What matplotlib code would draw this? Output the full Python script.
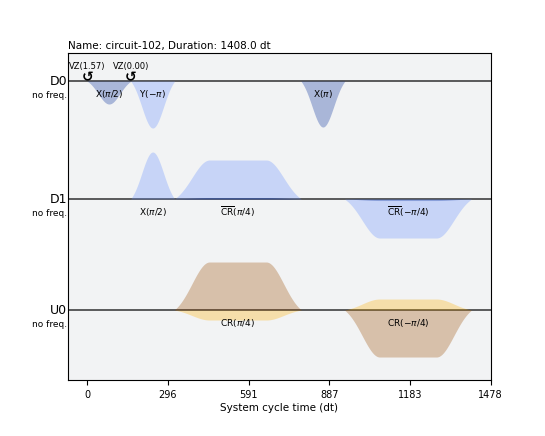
import numpy as np
import matplotlib
matplotlib.use('Agg')
import matplotlib.pyplot as plt

plt.rcParams['font.family'] = ['DejaVu Sans']
plt.rcParams['mathtext.fontset'] = 'dejavusans'

# schedule data
title = 'Name: circuit-102, Duration: 1408.0 dt'
duration = 1408
channels = ['D0', 'D1', 'U0']
channel_offsets = [0.0, -1.18, -2.29]

# pulses: channel, start, length, real amp, imag amp, kind, label
pulse_channel = ['D0', 'D0', 'D0', 'D1', 'D1', 'D1', 'U0', 'U0']
pulse_start = [0, 160, 784, 160, 320, 944, 320, 944]
pulse_length = [160, 160, 160, 160, 464, 464, 464, 464]
pulse_re = [0.0, -0.47, 0.0, 0.47, 0.39, -0.39, -0.10, 0.11]
pulse_im = [-0.23, 0.0, -0.46, 0.0, 0.015, -0.015, 0.48, -0.47]
pulse_kind = ['gauss', 'gauss', 'gauss', 'gauss', 'square', 'square', 'square', 'square']
pulse_label = [r'X($\pi$/2)', r'Y($-\pi$)', r'X($\pi$)', r'X($\pi$/2)',
               r'$\overline{\rm CR}$($\pi$/4)', r'$\overline{\rm CR}$($-\pi$/4)',
               r'CR($\pi$/4)', r'CR($-\pi$/4)']
gauss_sigma = 40
square_sigma = 64
square_width = 208

# frame changes on D0
vz_times = [0, 160]
vz_labels = ['VZ(1.57)', 'VZ(0.00)']

xticks = [0, 295.68, 591.36, 887.04, 1182.72, 1478.4]
xtick_labels = ['0', '296', '591', '887', '1183', '1478']

colors = {'D': ('#648fff', '#002999'), 'U': ('#ffb000', '#994a00')}


def envelope(kind, n):
    t = np.arange(n + 1)
    if kind == 'gauss':
        c = n / 2
        g = np.exp(-0.5 * ((t - c) / gauss_sigma) ** 2)
        edge = np.exp(-0.5 * ((c + 1) / gauss_sigma) ** 2)
        return t, np.clip((g - edge) / (1 - edge), 0, None)
    rf = (n - square_width) / 2
    d = np.where(t < rf, t - rf, np.where(t > n - rf, t - (n - rf), 0))
    g = np.exp(-0.5 * (d / square_sigma) ** 2)
    edge = np.exp(-0.5 * ((rf + 1) / square_sigma) ** 2)
    return t, np.clip((g - edge) / (1 - edge), 0, None)


fig = plt.figure(figsize=(5.45, 4.36), dpi=100)
ax = fig.add_axes([0.1248, 0.1284, 0.7752, 0.75])
ax.set_facecolor('#f2f3f4')
ax.set_xlim(-70.4, 1478.4)
ax.set_ylim(-2.99, 0.28)

for ch, off in zip(channels, channel_offsets):
    ax.axhline(off, color='#404040', lw=1.2, zorder=1)
    ax.text(-0.002, off, ch, transform=ax.get_yaxis_transform(), ha='right',
            va='center', fontsize=9)
    ax.text(-0.002, off - 0.14, 'no freq.', transform=ax.get_yaxis_transform(),
            ha='right', va='center', fontsize=6.5)

for ch, s, n, re, im, kind, lab in zip(pulse_channel, pulse_start, pulse_length,
                                       pulse_re, pulse_im, pulse_kind, pulse_label):
    off = channel_offsets[channels.index(ch)]
    c_re, c_im = colors[ch[0]]
    t, env = envelope(kind, n)
    if re != 0:
        ax.fill_between(s + t, off, off + re * env, color=c_re, alpha=0.3, lw=0, zorder=2)
    if im != 0:
        ax.fill_between(s + t, off, off + im * env, color=c_im, alpha=0.3, lw=0, zorder=2)
    ax.text(s + n / 2, off - 0.13, lab, ha='center', va='center', fontsize=6.5, zorder=3)

for t0, lab in zip(vz_times, vz_labels):
    ax.text(t0, channel_offsets[0] + 0.035, '\u21ba', ha='center', va='center',
            fontsize=10, fontweight='bold', zorder=4)
    ax.text(t0, channel_offsets[0] + 0.15, lab, ha='center', va='center', fontsize=6)

ax.set_xticks(xticks)
ax.set_xticklabels(xtick_labels, fontsize=7)
ax.set_yticks([])
ax.set_xlabel('System cycle time (dt)', fontsize=7.5, labelpad=2)
ax.set_title(title, loc='left', fontsize=7.5, pad=3)

fig.savefig('out.png', dpi=100)
